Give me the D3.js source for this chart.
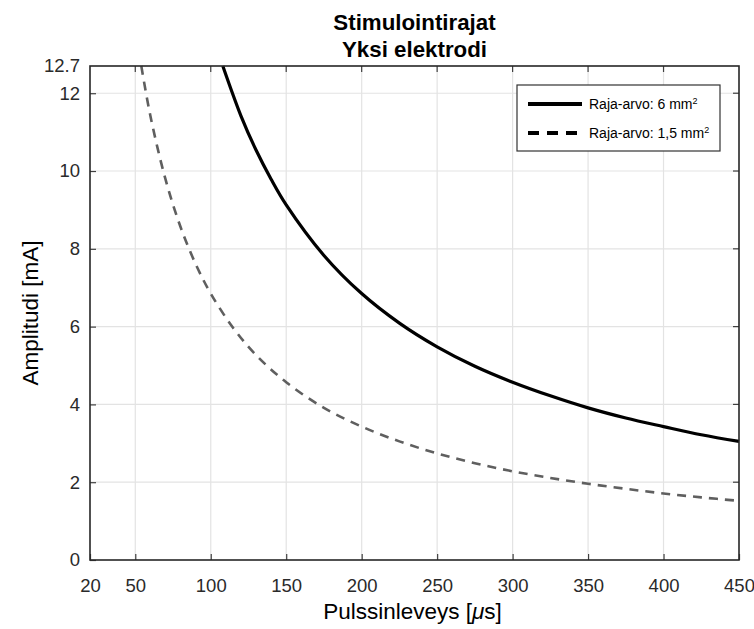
<!DOCTYPE html>
<html>
<head>
<meta charset="utf-8">
<script src="https://cdn.jsdelivr.net/npm/d3@7"></script>
<style>
  html, body { margin: 0; padding: 0; background: #fff; }
  svg { display: block; font-family: Arial, "Liberation Sans", sans-serif; }
</style>
</head>
<body>
<svg id="chart" width="754" height="629"></svg>
<script>
// Pulse width [µs] and threshold amplitude [mA], 6 mm² electrode
const pwLarge  = [108, 120, 130, 140, 150, 175, 200, 225, 250, 275, 300, 325, 350, 375, 400, 425, 450];
const ampLarge = [12.7, 11.42, 10.54, 9.79, 9.13, 7.83, 6.85, 6.09, 5.48, 4.98, 4.57, 4.22, 3.91, 3.65, 3.43, 3.22, 3.05];

// Pulse width [µs] and threshold amplitude [mA], 1,5 mm² electrode
const pwSmall  = [54, 60, 70, 80, 90, 100, 115, 130, 150, 175, 200, 225, 250, 275, 300, 325, 350, 375, 400, 425, 450];
const ampSmall = [12.7, 11.42, 9.79, 8.56, 7.61, 6.85, 5.96, 5.27, 4.57, 3.91, 3.43, 3.05, 2.74, 2.49, 2.28, 2.11, 1.96, 1.83, 1.71, 1.61, 1.52];

const xTicks = [20, 50, 100, 150, 200, 250, 300, 350, 400, 450];
const yTicks = [0, 2, 4, 6, 8, 10, 12, 12.7];

const titleLines = ["Stimulointirajat", "Yksi elektrodi"];
const legendLabels = ["Raja-arvo: 6 mm", "Raja-arvo: 1,5 mm"];

const svg = d3.select("#chart");
const m = { left: 90, right: 739, top: 66, bottom: 560 };

const x = d3.scaleLinear().domain([20, 450]).range([m.left, m.right]);
const y = d3.scaleLinear().domain([0, 12.7]).range([m.bottom, m.top]);

// grid
const grid = svg.append("g");
grid.selectAll("line.gx").data(xTicks.slice(1, -1)).join("line")
  .attr("x1", d => x(d)).attr("x2", d => x(d))
  .attr("y1", m.top).attr("y2", m.bottom)
  .attr("stroke", "#e3e3e3").attr("stroke-width", 1.2);
grid.selectAll("line.gy").data(yTicks.slice(1, -1)).join("line")
  .attr("x1", m.left).attr("x2", m.right)
  .attr("y1", d => y(d)).attr("y2", d => y(d))
  .attr("stroke", "#e3e3e3").attr("stroke-width", 1.2);

// curves
const plot = svg.append("g");
const line = d3.line().x(d => x(d[0])).y(d => y(d[1])).curve(d3.curveCatmullRom.alpha(0.5));

plot.append("path")
  .datum(d3.zip(pwSmall, ampSmall))
  .attr("d", line)
  .attr("fill", "none")
  .attr("stroke", "#5f5f5f")
  .attr("stroke-width", 2.6)
  .attr("stroke-dasharray", "9,7");

plot.append("path")
  .datum(d3.zip(pwLarge, ampLarge))
  .attr("d", line)
  .attr("fill", "none")
  .attr("stroke", "#000")
  .attr("stroke-width", 3.2);

// axes (ticks point inward)
const tickColor = "#404040";
const xAxis = d3.axisBottom(x).tickValues(xTicks).tickSize(-6).tickPadding(19).tickFormat(d3.format("d"));
const yAxis = d3.axisLeft(y).tickValues(yTicks).tickSize(-6).tickPadding(10).tickFormat(d => d === 12.7 ? "12.7" : d3.format("d")(d));

const gx = svg.append("g").attr("transform", `translate(0,${m.bottom})`).call(xAxis);
const gy = svg.append("g").attr("transform", `translate(${m.left},0)`).call(yAxis);
[gx, gy].forEach(g => {
  g.select(".domain").remove();
  g.selectAll(".tick line").attr("stroke", tickColor).attr("stroke-width", 1.2);
  g.selectAll(".tick text").attr("fill", "#2a2a2a").style("font-size", "18.5px").style("font-family", "Arial, 'Liberation Sans', sans-serif");
});
gy.selectAll(".tick").filter(d => d === 12.7).select("line").remove();

// top and right ticks
svg.append("g").selectAll("line").data(xTicks.slice(1, -1)).join("line")
  .attr("x1", d => x(d)).attr("x2", d => x(d))
  .attr("y1", m.top).attr("y2", m.top + 6)
  .attr("stroke", tickColor).attr("stroke-width", 1.2);
svg.append("g").selectAll("line").data(yTicks.slice(1, -1)).join("line")
  .attr("x1", m.right - 6).attr("x2", m.right)
  .attr("y1", d => y(d)).attr("y2", d => y(d))
  .attr("stroke", tickColor).attr("stroke-width", 1.2);

// frame
svg.append("rect")
  .attr("x", m.left).attr("y", m.top)
  .attr("width", m.right - m.left).attr("height", m.bottom - m.top)
  .attr("fill", "none").attr("stroke", "#262626").attr("stroke-width", 1.6);

// title
svg.append("g").selectAll("text").data(titleLines).join("text")
  .attr("x", (m.left + m.right) / 2)
  .attr("y", (d, i) => 30 + i * 27)
  .attr("text-anchor", "middle")
  .style("font-size", "22.3px").style("font-weight", "bold")
  .attr("fill", "#000")
  .text(d => d);

// axis labels
svg.append("text")
  .attr("x", (m.left + m.right) / 2 - 2).attr("y", 619)
  .attr("text-anchor", "middle")
  .style("font-size", "22.5px").attr("fill", "#000")
  .call(t => {
    t.append("tspan").text("Pulssinleveys [");
    t.append("tspan").style("font-style", "italic").text("\u03bc");
    t.append("tspan").text("s]");
  });

svg.append("text")
  .attr("transform", `translate(38,${(m.top + m.bottom) / 2}) rotate(-90)`)
  .attr("text-anchor", "middle")
  .style("font-size", "22.5px").attr("fill", "#000")
  .text("Amplitudi [mA]");

// legend
const lg = svg.append("g");
lg.append("rect")
  .attr("x", 517).attr("y", 85).attr("width", 203).attr("height", 66)
  .attr("fill", "#fff").attr("stroke", "#333").attr("stroke-width", 1.2);
const legendRows = [
  { y: 104, dash: null },
  { y: 133, dash: "11,8" }
];
legendRows.forEach((r, i) => {
  lg.append("line")
    .attr("x1", 528).attr("x2", 582).attr("y1", r.y).attr("y2", r.y)
    .attr("stroke", "#000").attr("stroke-width", 4)
    .attr("stroke-dasharray", r.dash);
  const t = lg.append("text")
    .attr("x", 589).attr("y", r.y + 5)
    .style("font-size", "14px").attr("fill", "#000");
  t.append("tspan").text(legendLabels[i]);
  t.append("tspan").attr("dy", -5).style("font-size", "9px").text("2");
});
</script>
</body>
</html>
